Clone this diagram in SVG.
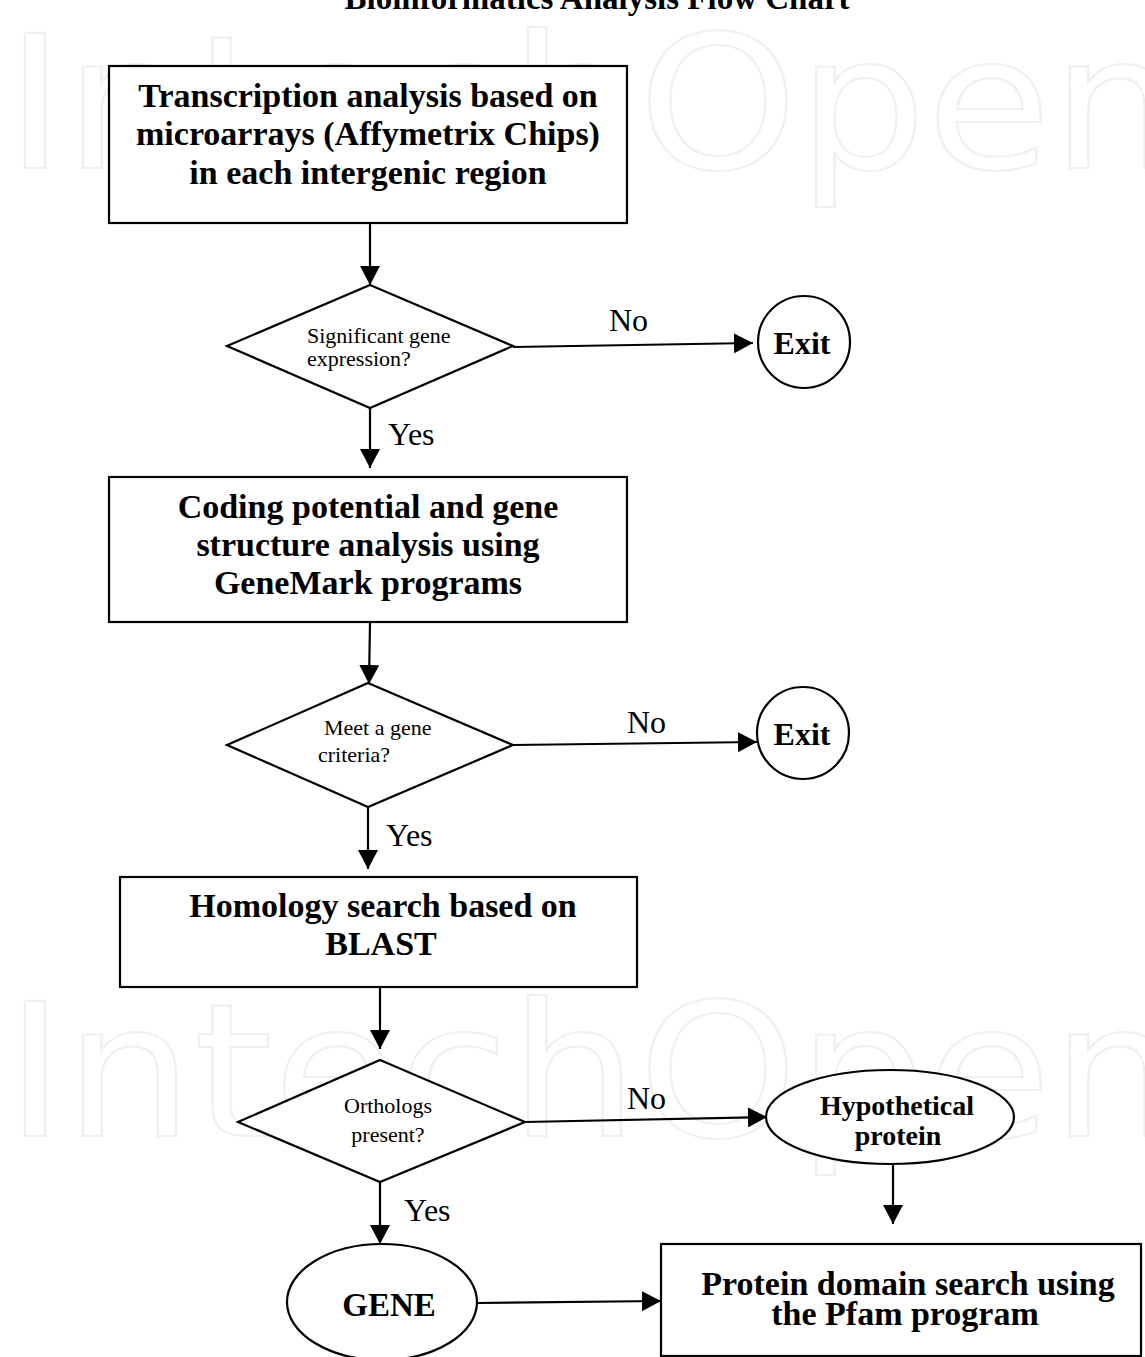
<svg xmlns="http://www.w3.org/2000/svg" width="1145" height="1357" viewBox="0 0 1145 1357">
<defs>
<marker id="ah" markerUnits="userSpaceOnUse" markerWidth="20" markerHeight="20" refX="19" refY="10" orient="auto">
<path d="M0,0 L19,10 L0,20 Z" fill="#000"/>
</marker>
<style>
.wm{font-family:"DejaVu Sans","Liberation Sans",sans-serif;font-size:185px;fill:none;stroke:#efefef;stroke-width:2}
.box{fill:#fff;stroke:#000;stroke-width:2.2}
.shape{fill:#fff;stroke:#000;stroke-width:2.2}
.t{font-family:"Liberation Serif","Times New Roman",serif;font-weight:bold;font-size:34px;fill:#000;text-anchor:middle}
.small{font-family:"Liberation Serif","Times New Roman",serif;font-size:22px;fill:#000}
.lab{font-family:"Liberation Serif","Times New Roman",serif;font-size:32px;fill:#000}
.con{stroke:#000;stroke-width:2.2;fill:none}
.arr{marker-end:url(#ah)}
</style>
</defs>
<rect width="1145" height="1357" fill="#fff"/>
<g id="watermark">
<text class="wm" x="5" y="168" textLength="1175" lengthAdjust="spacingAndGlyphs">IntechOpen</text>
<text class="wm" x="5" y="1136" textLength="1175" lengthAdjust="spacingAndGlyphs">IntechOpen</text>
</g>
<g id="title">
<text x="597" y="9" class="t" style="font-size:33px">Bioinformatics Analysis Flow Chart</text>
</g>
<g id="connectors">
<line class="con arr" x1="370" y1="223" x2="370" y2="285"/>
<line class="con arr" x1="513" y1="347" x2="753" y2="343"/>
<line class="con arr" x1="370" y1="408" x2="370" y2="468"/>
<line class="con arr" x1="370" y1="622" x2="369" y2="684"/>
<line class="con arr" x1="513" y1="745" x2="757" y2="742"/>
<line class="con arr" x1="368" y1="807" x2="368" y2="869"/>
<line class="con arr" x1="380" y1="987" x2="380" y2="1049"/>
<line class="con arr" x1="525" y1="1122" x2="767" y2="1117"/>
<line class="con arr" x1="893" y1="1164" x2="893" y2="1224"/>
<line class="con arr" x1="380" y1="1182" x2="380" y2="1244"/>
<line class="con arr" x1="478" y1="1303" x2="661" y2="1301"/>
<text class="lab" x="609" y="331">No</text>
<text class="lab" x="388" y="445">Yes</text>
<text class="lab" x="627" y="733">No</text>
<text class="lab" x="386" y="846">Yes</text>
<text class="lab" x="627" y="1109">No</text>
<text class="lab" x="404" y="1221">Yes</text>
</g>
<g id="n1">
<rect class="box" x="109" y="66" width="518" height="157"/>
<text class="t" x="368" y="107">Transcription analysis based on</text>
<text class="t" x="368" y="145">microarrays (Affymetrix Chips)</text>
<text class="t" x="368" y="184">in each intergenic region</text>
</g>
<g id="d1">
<polygon class="shape" points="370,285 513,346 370,408 227,346"/>
<text class="small" x="307" y="343">Significant gene</text>
<text class="small" x="307" y="366">expression?</text>
</g>
<g id="exit1">
<circle class="shape" cx="804" cy="342" r="46"/>
<text class="t" x="802" y="354" style="font-size:32px">Exit</text>
</g>
<g id="n2">
<rect class="box" x="109" y="477" width="518" height="145"/>
<text class="t" x="368" y="518">Coding potential and gene</text>
<text class="t" x="368" y="556">structure analysis using</text>
<text class="t" x="368" y="594">GeneMark programs</text>
</g>
<g id="d2">
<polygon class="shape" points="368,683 513,745 368,807 227,745"/>
<text class="small" x="324" y="735">Meet a gene</text>
<text class="small" x="318" y="762">criteria?</text>
</g>
<g id="exit2">
<circle class="shape" cx="803" cy="733" r="46"/>
<text class="t" x="802" y="745" style="font-size:32px">Exit</text>
</g>
<g id="n3">
<rect class="box" x="120" y="877" width="517" height="110"/>
<text class="t" x="383" y="917">Homology search based on</text>
<text class="t" x="381" y="955">BLAST</text>
</g>
<g id="d3">
<polygon class="shape" points="380,1060 525,1122 380,1182 238,1122"/>
<text class="small" x="388" y="1113" style="text-anchor:middle">Orthologs</text>
<text class="small" x="388" y="1142" style="text-anchor:middle">present?</text>
</g>
<g id="hypo">
<ellipse class="shape" cx="890" cy="1117" rx="124" ry="47"/>
<text class="t" x="897" y="1115" style="font-size:28px">Hypothetical</text>
<text class="t" x="898" y="1145" style="font-size:28px">protein</text>
</g>
<g id="gene">
<ellipse class="shape" cx="382" cy="1302" rx="95" ry="58"/>
<text class="t" x="389" y="1316" style="font-size:33px">GENE</text>
</g>
<g id="pfam">
<rect class="box" x="661" y="1244" width="480" height="112"/>
<text class="t" x="908" y="1295">Protein domain search using</text>
<text class="t" x="905" y="1325">the Pfam program</text>
</g>
</svg>
